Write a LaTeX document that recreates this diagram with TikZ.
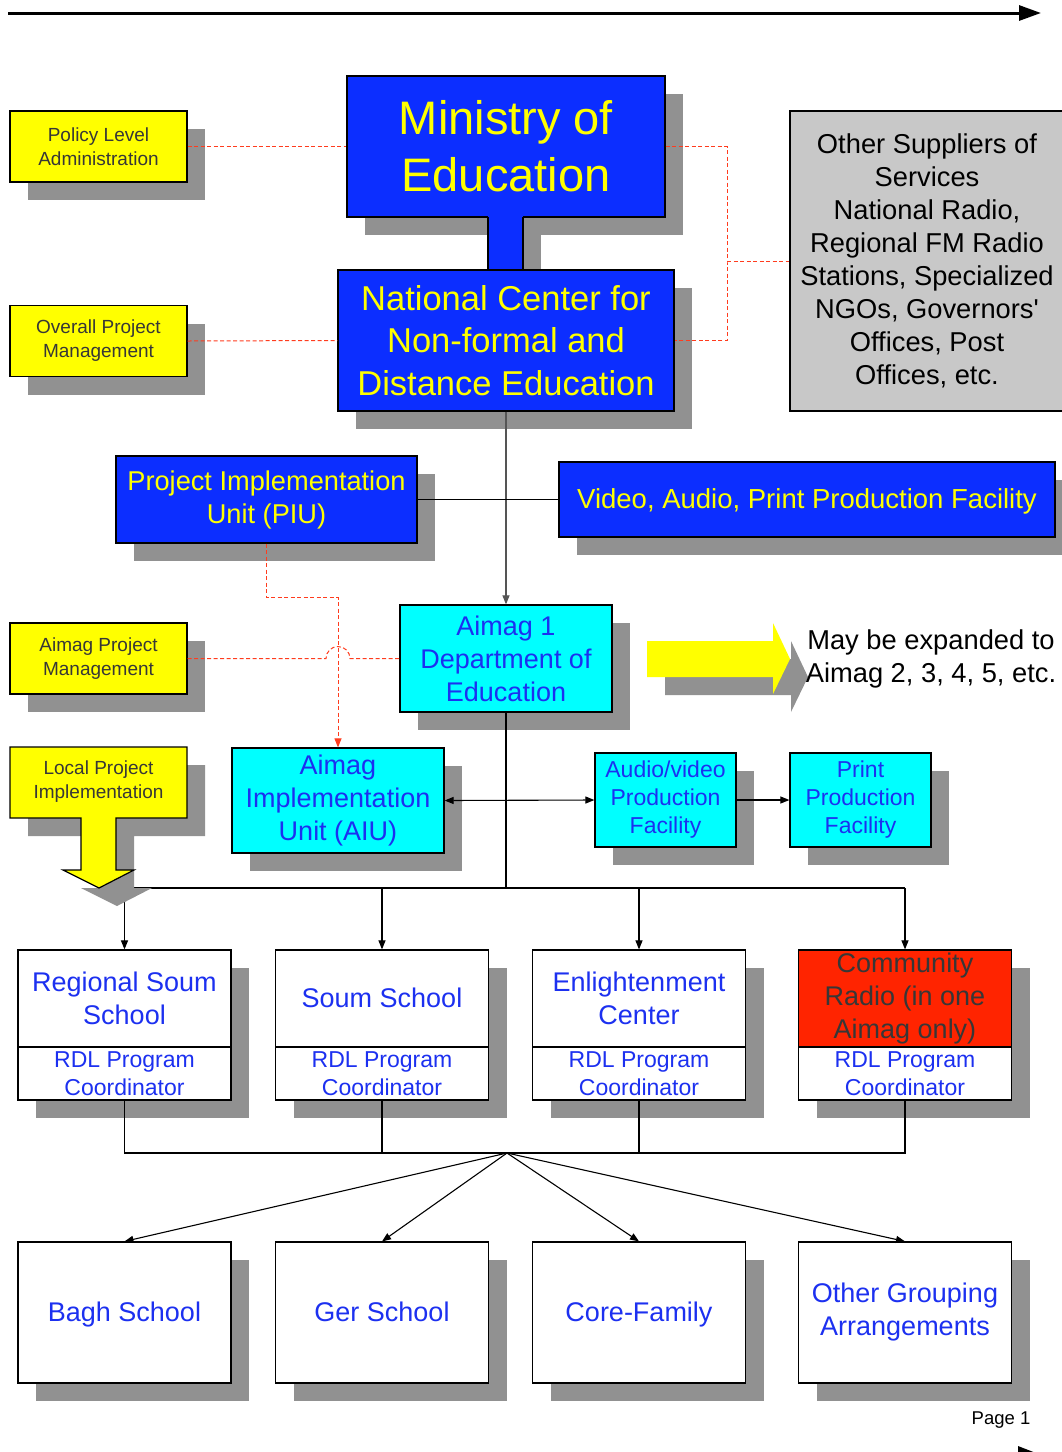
\documentclass[tikz,border=0pt]{standalone}
\usepackage{fontspec}
\setmainfont{Liberation Sans}
\usetikzlibrary{arrows.meta,shadows}
\definecolor{moeblue}{RGB}{12,46,255}
\definecolor{moeyellow}{RGB}{255,255,0}
\definecolor{shadowgray}{RGB}{145,145,145}
\definecolor{supplygray}{RGB}{200,200,200}
\definecolor{aimagcyan}{RGB}{0,255,255}
\definecolor{textblue}{RGB}{28,48,240}
\definecolor{radiored}{RGB}{255,36,0}
\definecolor{dashred}{RGB}{255,60,30}
\definecolor{tagtext}{RGB}{55,55,55}
\definecolor{darkline}{RGB}{85,85,85}

\begin{document}
\begin{tikzpicture}[x=1pt,y=-1pt,
  boxshadow/.style={general shadow={fill=shadowgray,shadow xshift=18pt,shadow yshift=-18pt}},
  box/.style={draw=black,line width=1.2pt,inner sep=0pt,align=center,boxshadow},
  bluebox/.style={box,fill=moeblue,text=moeyellow},
  cyanbox/.style={box,fill=aimagcyan,text=textblue},
  tagbox/.style={box,fill=moeyellow,text=tagtext,minimum width=177pt,minimum height=71pt,font=\fontsize{19}{24}\selectfont},
  schoolbox/.style={box,fill=white,text=textblue,minimum width=213pt},
  oneline/.style={text height=24.4pt,text depth=5.7pt},
  namefont/.style={font=\fontsize{27}{33}\selectfont},
  rdlfont/.style={font=\fontsize{23}{28}\selectfont},
  link/.style={line width=1.1pt,black},
  redlink/.style={line width=1pt,dashred,dash pattern=on 4pt off 2.5pt},
  tip/.style={-{Triangle[length=9pt,width=7pt]}}
]
\useasboundingbox (0,0) rectangle (1062,1452);

% time line
\coordinate (timestart) at (8,13);
\coordinate (timeend) at (1041,13);
\draw[line width=3pt,-{Triangle[length=22pt,width=15pt]}] (timestart) -- (timeend);

% national level
\node[bluebox,minimum width=318pt,minimum height=141pt,font=\fontsize{47}{57}\selectfont] (ministry) at (506,146.5) {Ministry of\\Education};
\fill[shadowgray] (506,235) rectangle (541,288);
\fill[moeblue] (488,216) rectangle (523,271);
\draw[line width=1.2pt] (488,217) -- (488,270) (523,217) -- (523,270);
\node[bluebox,minimum width=336pt,minimum height=141pt,font=\fontsize{34.5}{42.5}\selectfont] (ncnfde) at (506,340.5) {National Center for\\Non-formal and\\Distance Education};
\node[draw=black,line width=1.2pt,fill=supplygray,inner sep=0pt,align=center,minimum width=274pt,minimum height=300pt,font=\fontsize{27.3}{33}\selectfont] (suppliers) at (927,261) {Other Suppliers of\\Services\\National Radio,\\Regional FM Radio\\Stations, Specialized\\NGOs, Governors\textquotesingle\\Offices, Post\\Offices, etc.};

% level tags
\node[tagbox] (policy) at (98.5,146.5) {Policy Level\\Administration};
\node[tagbox] (overall) at (98.5,341) {Overall Project\\Management};
\node[tagbox] (aimagpm) at (98.5,658.5) {Aimag Project\\Management};

% project units
\node[bluebox,minimum width=301pt,minimum height=87pt,font=\fontsize{27.2}{33}\selectfont] (piu) at (266.5,499.5) {Project Implementation\\Unit (PIU)};
\node[bluebox,oneline,minimum width=496pt,minimum height=75pt,font=\fontsize{27.5}{33}\selectfont] (video) at (807,499.5) {Video, Audio, Print Production Facility};

% aimag level
\node[cyanbox,minimum width=212pt,minimum height=107pt,namefont] (aimag1) at (506,658.5) {Aimag 1\\Department of\\Education};
\node[cyanbox,minimum width=212pt,minimum height=105pt,namefont] (aiu) at (338,800.5) {Aimag\\Implementation\\Unit (AIU)};
\node[cyanbox,minimum width=141pt,minimum height=94pt,rdlfont] (avprod) at (665.5,800) {Audio/video\\Production\\Facility};
\node[cyanbox,minimum width=141pt,minimum height=94pt,rdlfont] (printprod) at (860.5,800) {Print\\Production\\Facility};

% expansion arrow
\fill[shadowgray] (665,659) -- (791,659) -- (791,641) -- (808,677) -- (791,712) -- (791,695) -- (665,695) -- cycle;
\fill[moeyellow] (647,641) -- (773,641) -- (773,623) -- (790,659) -- (773,694) -- (773,677) -- (647,677) -- cycle;
\node[align=center,font=\fontsize{27.3}{33}\selectfont] (expand) at (931,659) {May be expanded to\\Aimag 2, 3, 4, 5, etc.};

% soum level
\node[schoolbox,minimum height=97pt,namefont] (rss) at (124.5,998.5) {Regional Soum\\School};
\node[schoolbox,minimum height=53pt,rdlfont] (rssrdl) at (124.5,1073.5) {RDL Program\\Coordinator};
\node[schoolbox,oneline,minimum height=97pt,namefont] (ss) at (382,998.5) {Soum School};
\node[schoolbox,minimum height=53pt,rdlfont] (ssrdl) at (382,1073.5) {RDL Program\\Coordinator};
\node[schoolbox,minimum height=97pt,namefont] (ec) at (639,998.5) {Enlightenment\\Center};
\node[schoolbox,minimum height=53pt,rdlfont] (ecrdl) at (639,1073.5) {RDL Program\\Coordinator};
\node[schoolbox,fill=radiored,text=tagtext,minimum height=97pt,namefont] (cr) at (905,998.5) {Community\\Radio (in one\\Aimag only)};
\node[schoolbox,minimum height=53pt,rdlfont] (crrdl) at (905,1073.5) {RDL Program\\Coordinator};

% delivery modes
\node[schoolbox,oneline,minimum height=141pt,namefont] (bagh) at (124.5,1312.5) {Bagh School};
\node[schoolbox,oneline,minimum height=141pt,namefont] (ger) at (382,1312.5) {Ger School};
\node[schoolbox,oneline,minimum height=141pt,namefont] (core) at (639,1312.5) {Core-Family};
\node[schoolbox,minimum height=141pt,namefont] (other) at (905,1312.5) {Other Grouping\\Arrangements};

\node[font=\fontsize{18.5}{22}\selectfont] (page) at (1001,1420) {Page 1};
\fill (1018,1446) -- (1036,1453) -- (1018,1453) -- cycle;

% dashed links
\coordinate (rj) at (727,261);
\draw[redlink] (policy.east) -- (ministry.west);
\draw[redlink] (ministry.east) -| (rj) |- (ncnfde.east);
\draw[redlink] (rj) -- (suppliers.west);
\draw[redlink] (overall.east) -- (ncnfde.west);
\path (aiu.north |- aimagpm.east) coordinate (hop);
\draw[redlink] (aimagpm.east) -- ([xshift=-12pt]hop) arc[start angle=180,end angle=0,radius=12pt] -- (aimag1.west);
\draw[redlink,tip] (piu.south) -- ++(0,54) -| (aiu.north);

% solid links
\draw[link,darkline,tip] (ncnfde.south) -- (aimag1.north);
\draw[link] (piu.east) -- (video.west);
\draw[link,{Triangle[length=9pt,width=7pt]}-{Triangle[length=9pt,width=7pt]}] (aiu.east) -- (avprod.west);
\draw[link,tip] (avprod.east) -- (printprod.west);
\coordinate (bus) at (506,888);
\draw[link] (aimag1.south) -- (bus);
\draw[link] (rss.north |- bus) -- (cr.north |- bus);
\draw[link,tip] (rss.north |- bus) -- (rss.north);
\draw[link,tip] (ss.north |- bus) -- (ss.north);
\draw[link,tip] (ec.north |- bus) -- (ec.north);
\draw[link,tip] (cr.north |- bus) -- (cr.north);
\coordinate (hub) at (507,1153);
\draw[link] (rssrdl.south) -- (rssrdl.south |- hub) -- (crrdl.south |- hub) -- (crrdl.south);
\draw[link] (ssrdl.south) -- (ssrdl.south |- hub);
\draw[link] (ecrdl.south) -- (ecrdl.south |- hub);
\draw[link,tip] (hub) -- (bagh.north);
\draw[link,tip] (hub) -- (ger.north);
\draw[link,tip] (hub) -- (core.north);
\draw[link,tip] (hub) -- (other.north);

% local project arrow
\fill[shadowgray] (28,765) -- (205,765) -- (205,836) -- (134,836) -- (134,888) -- (152,888) -- (117,906) -- (81,888) -- (99,888) -- (99,836) -- (28,836) -- cycle;
\filldraw[fill=moeyellow,line width=1.2pt] (10,747) -- (187,747) -- (187,818) -- (116,818) -- (116,870) -- (134,870) -- (99,888) -- (63,870) -- (81,870) -- (81,818) -- (10,818) -- cycle;
\node[align=center,text=tagtext,font=\fontsize{19}{24}\selectfont] (local) at (98.5,782) {Local Project\\Implementation};
\end{tikzpicture}
\end{document}
